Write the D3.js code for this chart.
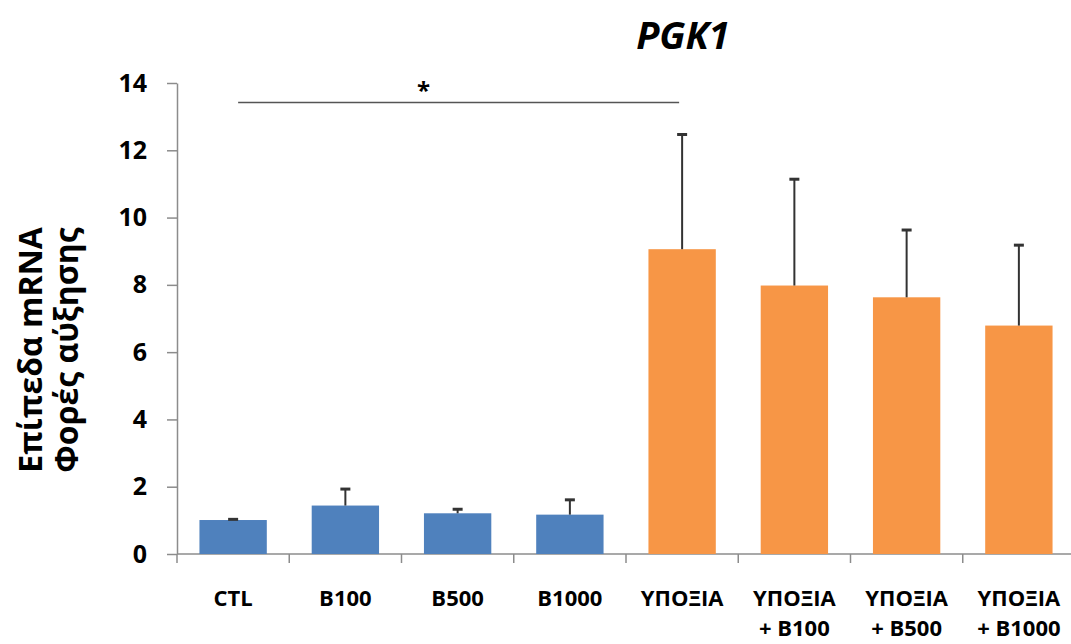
<!DOCTYPE html>
<html>
<head>
<meta charset="utf-8">
<script src="https://cdn.jsdelivr.net/npm/d3@7"></script>
<style>
  body { margin: 0; background: #fff; }
  svg text { font-family: "Open Sans", "DejaVu Sans", sans-serif; font-weight: bold; fill: #000; }
</style>
</head>
<body>
<div class="graph"></div>
<script>
"use strict";

// categories, two label lines each
var labelTop = ["CTL", "B100", "B500", "B1000", "ΥΠΟΞΙΑ", "ΥΠΟΞΙΑ", "ΥΠΟΞΙΑ", "ΥΠΟΞΙΑ"];
var labelBottom = ["", "", "", "", "", "+ B100", "+ B500", "+ B1000"];
var categories = ["CTL", "B100", "B500", "B1000", "H", "H+B100", "H+B500", "H+B1000"];
var means = [1.01, 1.44, 1.21, 1.17, 9.06, 7.98, 7.63, 6.79];
var errors = [0.02, 0.49, 0.12, 0.44, 3.41, 3.16, 2.00, 2.39];
var hypoxia = [false, false, false, false, true, true, true, true];
var yTicks = [0, 2, 4, 6, 8, 10, 12, 14];
var sigFrom = "CTL", sigTo = "H", sigLevel = 13.42;

var width = 1071, height = 644;
var plotLeft = 177, plotRight = 1075, plotTop = 83, plotBottom = 554;

var svg = d3.select('.graph').append('svg')
    .attr('width', width)
    .attr('height', height)

var x = d3.scaleBand()
    .domain(categories)
    .range([plotLeft, plotRight])
    .paddingInner(0.4)
    .paddingOuter(0.2)

var y = d3.scaleLinear()
    .domain([0, 14])
    .range([plotBottom, plotTop])

// y axis
var yAxis = d3.axisLeft(y).tickValues(yTicks).tickSize(10).tickSizeOuter(0).tickPadding(20);
var axisY = svg.append('g')
    .attr('transform', 'translate(' + plotLeft + ',0)')
    .call(yAxis)
axisY.select('.domain').attr('stroke', '#8c8c8c').attr('stroke-width', 1.5)
axisY.selectAll('.tick line').attr('stroke', '#8c8c8c').attr('stroke-width', 1.5)
axisY.selectAll('.tick text')
    .attr('font-size', '25px')
    .attr('font-family', '"Open Sans", sans-serif')
    .attr('font-weight', 'bold')
    .attr('fill', '#000')

// x axis line and boundary ticks
var step = x.step();
var bounds = d3.range(categories.length + 1).map(function(i) { return x.range()[0] + i * step });
svg.append('line')
    .attr('x1', plotLeft).attr('x2', width)
    .attr('y1', y(0)).attr('y2', y(0))
    .attr('stroke', '#8c8c8c').attr('stroke-width', 1.5)
svg.append('g').selectAll('line')
    .data(bounds)
    .join('line')
    .attr('x1', function(d) { return d }).attr('x2', function(d) { return d })
    .attr('y1', y(0)).attr('y2', y(0) + 9)
    .attr('stroke', '#8c8c8c').attr('stroke-width', 1.5)

// bars
svg.append('g').selectAll('rect')
    .data(categories)
    .join('rect')
    .attr('x', function(d) { return x(d) })
    .attr('width', x.bandwidth())
    .attr('y', function(d, i) { return y(means[i]) })
    .attr('height', function(d, i) { return y(0) - y(means[i]) })
    .attr('fill', function(d, i) { return hypoxia[i] ? '#f79646' : '#4f81bd' })

// error bars (upper only)
var err = svg.append('g').attr('stroke', '#333').attr('stroke-width', 2)
categories.forEach(function(c, i) {
    var cx = x(c) + x.bandwidth() / 2;
    err.append('line')
        .attr('x1', cx).attr('x2', cx)
        .attr('y1', y(means[i])).attr('y2', y(means[i] + errors[i]))
    err.append('line')
        .attr('x1', cx - 5).attr('x2', cx + 5)
        .attr('y1', y(means[i] + errors[i])).attr('y2', y(means[i] + errors[i]))
        .attr('stroke-width', 3)
})

// category labels
var labels = svg.append('g').attr('font-size', '22px').attr('text-anchor', 'middle')
categories.forEach(function(c, i) {
    var cx = x(c) + x.bandwidth() / 2;
    labels.append('text').attr('x', cx).attr('y', 606).text(labelTop[i])
    if (labelBottom[i]) labels.append('text').attr('x', cx).attr('y', 636).text(labelBottom[i])
})

// significance bar
var sx1 = x(sigFrom) + x.bandwidth() / 2 + 5, sx2 = x(sigTo) + x.bandwidth() / 2 - 3;
svg.append('line')
    .attr('x1', sx1).attr('x2', sx2)
    .attr('y1', y(sigLevel)).attr('y2', y(sigLevel))
    .attr('stroke', '#555').attr('stroke-width', 1.5)
svg.append('text')
    .attr('x', (sx1 + sx2) / 2 - 35)
    .attr('y', y(sigLevel) - 4)
    .attr('text-anchor', 'middle')
    .attr('font-size', '24px')
    .text('*')

// title
svg.append('text')
    .attr('x', 683).attr('y', 49)
    .attr('text-anchor', 'middle')
    .attr('font-size', '38px')
    .attr('font-style', 'italic')
    .text('PGK1')

// y axis title
var yt = svg.append('text')
    .attr('transform', 'translate(0,350) rotate(-90)')
    .attr('text-anchor', 'middle')
    .attr('font-size', '32px')
yt.append('tspan').attr('x', 0).attr('y', 42).text('Επίπεδα mRNA')
yt.append('tspan').attr('x', 0).attr('y', 78).text('Φορές αύξησης')
</script>
</body>
</html>
